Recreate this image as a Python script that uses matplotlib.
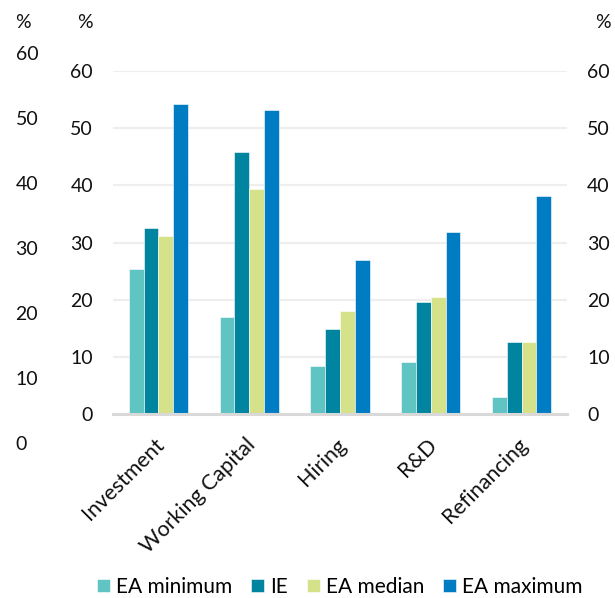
import numpy as np
import matplotlib.pyplot as plt
import matplotlib.transforms as mtransforms

plt.rcParams['font.family'] = ['Lato', 'DejaVu Sans']

# share of firms (%) by purpose of financing
categories = ["Investment", "Working Capital", "Hiring", "R&D", "Refinancing"]
ea_minimum = [25.3, 17.0, 8.4, 9.1, 3.0]
ie_values = [32.5, 45.8, 14.9, 19.6, 12.6]
ea_median = [31.2, 39.3, 18.0, 20.4, 12.6]
ea_maximum = [54.2, 53.1, 27.0, 31.8, 38.2]
tick_values = [0, 10, 20, 30, 40, 50, 60]

series = [
    ("EA minimum", ea_minimum, "#5fc4c2"),
    ("IE", ie_values, "#00849f"),
    ("EA median", ea_median, "#d5e28a"),
    ("EA maximum", ea_maximum, "#007cc3"),
]

W, H = 615, 598
fig = plt.figure(figsize=(W / 100, H / 100), dpi=100)

# main plot area
ax = fig.add_axes([113 / W, 1 - 414 / H, (567 - 113) / W, (414 - 71) / H])
x = np.arange(len(categories))
bw = 0.1635
for i, (name, vals, col) in enumerate(series):
    ax.bar(x + (i - 1.5) * bw, vals, width=bw, color=col, label=name,
           edgecolor="white", linewidth=0.4, zorder=3)

ax.set_xlim(-0.5, len(categories) - 0.5)
ax.set_ylim(0, 60)
ax.set_yticks(tick_values)
ax.yaxis.grid(True, color="#eeeeee", linewidth=1.6, zorder=0)
for s in ["top", "right", "left"]:
    ax.spines[s].set_visible(False)
ax.spines["bottom"].set_color("#d9d9d9")
ax.spines["bottom"].set_linewidth(2.2)
ax.spines["bottom"].set_zorder(4)
ax.tick_params(axis="y", length=0, pad=14.4, labelsize=14, labelcolor="#111111",
               labelright=True, right=False)
ax.tick_params(axis="x", length=0, pad=15)
ax.set_xticks(x)
ax.set_xticklabels(categories, rotation=45, ha="right", rotation_mode="anchor",
                   fontsize=15.5, color="#111111")
shift = mtransforms.ScaledTranslation(-4 / 100, 0, fig.dpi_scale_trans)
for lbl in ax.get_xticklabels():
    lbl.set_transform(lbl.get_transform() + shift)

# outer left scale
ax2 = fig.add_axes([15 / W, 1 - 443 / H, 0.001, (443 - 53) / H])
ax2.set_ylim(0, 60)
ax2.set_yticks(tick_values)
ax2.set_xticks([])
for s in ax2.spines.values():
    s.set_visible(False)
ax2.patch.set_alpha(0)
ax2.yaxis.tick_right()
ax2.tick_params(axis="y", length=0, pad=0, labelsize=14, labelcolor="#111111")

# unit labels
fig.text(15 / W, 1 - 23 / H, "%", ha="left", va="center", fontsize=14, color="#111111")
fig.text(93 / W, 1 - 23 / H, "%", ha="right", va="center", fontsize=14, color="#111111")
fig.text(611 / W, 1 - 23 / H, "%", ha="right", va="center", fontsize=14, color="#111111")

fig.legend(loc="center", bbox_to_anchor=(340 / W, 1 - 587 / H), ncol=4, frameon=False,
           fontsize=15, handlelength=0.62, handleheight=0.62, handletextpad=0.3,
           columnspacing=0.9, borderpad=0)

fig.savefig("out.png", dpi=100)
